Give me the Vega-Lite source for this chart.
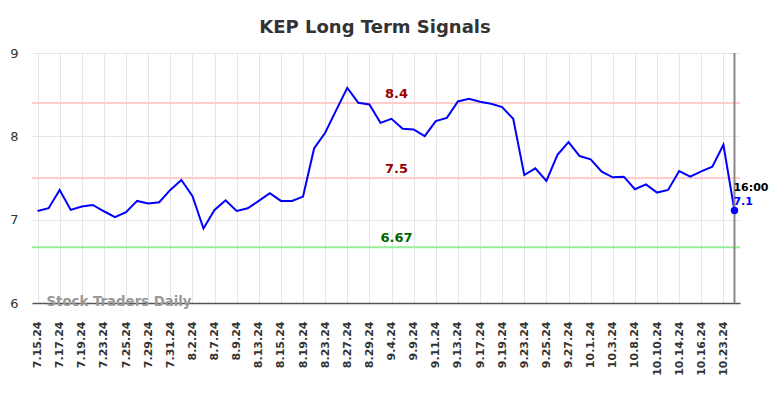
{
  "$schema": "https://vega.github.io/schema/vega-lite/v6.json",
  "width": 708,
  "height": 250,
  "autosize": "none",
  "padding": {"left": 32, "top": 53, "right": 44, "bottom": 95},
  "config": {"font": "DejaVu Sans", "view": {"stroke": null}},
  "title": {"text": "KEP Long Term Signals", "fontSize": 18, "fontWeight": "bold", "color": "#333333", "anchor": "middle", "dx": -11, "offset": 10},
  "resolve": {"scale": {"color": "independent"}},
  "data": {"values": [
    {"date": "7.15.24", "value": 7.105},
    {"date": "7.16.24", "value": 7.137},
    {"date": "7.17.24", "value": 7.357},
    {"date": "7.18.24", "value": 7.117},
    {"date": "7.19.24", "value": 7.157},
    {"date": "7.22.24", "value": 7.177},
    {"date": "7.23.24", "value": 7.101},
    {"date": "7.24.24", "value": 7.03},
    {"date": "7.25.24", "value": 7.09},
    {"date": "7.26.24", "value": 7.225},
    {"date": "7.29.24", "value": 7.193},
    {"date": "7.30.24", "value": 7.209},
    {"date": "7.31.24", "value": 7.357},
    {"date": "8.1.24", "value": 7.476},
    {"date": "8.2.24", "value": 7.285},
    {"date": "8.6.24", "value": 6.894},
    {"date": "8.7.24", "value": 7.117},
    {"date": "8.8.24", "value": 7.233},
    {"date": "8.9.24", "value": 7.105},
    {"date": "8.12.24", "value": 7.137},
    {"date": "8.13.24", "value": 7.225},
    {"date": "8.14.24", "value": 7.317},
    {"date": "8.15.24", "value": 7.225},
    {"date": "8.16.24", "value": 7.225},
    {"date": "8.19.24", "value": 7.277},
    {"date": "8.22.24", "value": 7.855},
    {"date": "8.23.24", "value": 8.043},
    {"date": "8.26.24", "value": 8.314},
    {"date": "8.27.24", "value": 8.581},
    {"date": "8.28.24", "value": 8.402},
    {"date": "8.29.24", "value": 8.382},
    {"date": "9.3.24", "value": 8.162},
    {"date": "9.4.24", "value": 8.21},
    {"date": "9.5.24", "value": 8.09},
    {"date": "9.9.24", "value": 8.083},
    {"date": "9.10.24", "value": 8.003},
    {"date": "9.11.24", "value": 8.182},
    {"date": "9.12.24", "value": 8.222},
    {"date": "9.13.24", "value": 8.418},
    {"date": "9.16.24", "value": 8.45},
    {"date": "9.17.24", "value": 8.414},
    {"date": "9.18.24", "value": 8.39},
    {"date": "9.19.24", "value": 8.35},
    {"date": "9.20.24", "value": 8.21},
    {"date": "9.23.24", "value": 7.536},
    {"date": "9.24.24", "value": 7.616},
    {"date": "9.25.24", "value": 7.464},
    {"date": "9.26.24", "value": 7.779},
    {"date": "9.27.24", "value": 7.931},
    {"date": "9.30.24", "value": 7.763},
    {"date": "10.1.24", "value": 7.724},
    {"date": "10.2.24", "value": 7.576},
    {"date": "10.3.24", "value": 7.508},
    {"date": "10.7.24", "value": 7.516},
    {"date": "10.8.24", "value": 7.365},
    {"date": "10.9.24", "value": 7.424},
    {"date": "10.10.24", "value": 7.325},
    {"date": "10.11.24", "value": 7.357},
    {"date": "10.14.24", "value": 7.584},
    {"date": "10.15.24", "value": 7.516},
    {"date": "10.16.24", "value": 7.58},
    {"date": "10.17.24", "value": 7.636},
    {"date": "10.23.24", "value": 7.899},
    {"date": "10.24.24", "value": 7.11}
  ]},
  "encoding": {
    "x": {
      "field": "date", "type": "ordinal", "sort": null,
      "scale": {"type": "point", "padding": 0.5},
      "axis": {
        "title": null,
        "values": ["7.15.24","7.17.24","7.19.24","7.23.24","7.25.24","7.29.24","7.31.24","8.2.24","8.7.24","8.9.24","8.13.24","8.15.24","8.19.24","8.23.24","8.27.24","8.29.24","9.4.24","9.9.24","9.11.24","9.13.24","9.17.24","9.19.24","9.23.24","9.25.24","9.27.24","10.1.24","10.3.24","10.8.24","10.10.24","10.14.24","10.16.24","10.23.24"],
        "labelAngle": -90, "labelAlign": "right", "labelBaseline": "middle",
        "labelFontSize": 11, "labelFontWeight": "bold", "labelColor": "#333333",
        "labelPadding": 18, "ticks": false,
        "domainColor": "#555555", "domainWidth": 1.5,
        "grid": true, "gridColor": "#e6e6e6", "gridWidth": 1
      }
    },
    "y": {
      "field": "value", "type": "quantitative",
      "scale": {"domain": [6, 9], "nice": false, "zero": false},
      "axis": {
        "title": null, "values": [6, 7, 8, 9], "ticks": false, "domain": false,
        "labelFontSize": 13, "labelColor": "#333333", "labelPadding": 14,
        "grid": true, "gridColor": "#e6e6e6", "gridWidth": 1
      }
    }
  },
  "layer": [
    {
      "data": {"values": [
        {"level": 8.4, "kind": "res"},
        {"level": 7.5, "kind": "res"},
        {"level": 6.67, "kind": "sup"}
      ]},
      "mark": {"type": "rule", "strokeWidth": 2},
      "encoding": {
        "x": null,
        "y": {"field": "level", "type": "quantitative"},
        "color": {"field": "kind", "type": "nominal", "scale": {"domain": ["res", "sup"], "range": ["#ffcccc", "#99ee99"]}, "legend": null}
      }
    },
    {
      "mark": {"type": "line", "color": "#0000ff", "strokeWidth": 2}
    },
    {
      "data": {"values": [{"date": "10.24.24"}]},
      "mark": {"type": "rule", "color": "#888888", "strokeWidth": 2},
      "encoding": {"y": null}
    },
    {
      "transform": [{"filter": "datum.date === '10.24.24'"}],
      "mark": {"type": "point", "filled": true, "color": "#0000ff", "size": 55, "opacity": 1}
    },
    {
      "data": {"values": [
        {"level": 8.4, "label": "8.4", "kind": "res"},
        {"level": 7.5, "label": "7.5", "kind": "res"},
        {"level": 6.67, "label": "6.67", "kind": "sup"}
      ]},
      "mark": {"type": "text", "fontSize": 13, "fontWeight": "bold", "dx": 5, "dy": -2, "baseline": "bottom", "align": "center"},
      "encoding": {
        "x": {"datum": "9.4.24"},
        "y": {"field": "level", "type": "quantitative"},
        "text": {"field": "label"},
        "color": {"field": "kind", "type": "nominal", "scale": {"domain": ["res", "sup"], "range": ["#990000", "#006600"]}, "legend": null}
      }
    },
    {
      "data": {"values": [{"date": "10.24.24", "value": 7.11, "label": "16:00"}]},
      "mark": {"type": "text", "fontSize": 11, "fontWeight": "bold", "align": "left", "baseline": "middle", "color": "#000000", "dx": -1, "dy": -23},
      "encoding": {"text": {"field": "label"}}
    },
    {
      "data": {"values": [{"date": "10.24.24", "value": 7.11, "label": "7.1"}]},
      "mark": {"type": "text", "fontSize": 11, "fontWeight": "bold", "align": "left", "baseline": "middle", "color": "#0000ff", "dx": -1, "dy": -9},
      "encoding": {"text": {"field": "label"}}
    },
    {
      "data": {"values": [{"date": "7.15.24", "value": 6, "label": "Stock Traders Daily"}]},
      "mark": {"type": "text", "fontSize": 13.3, "fontWeight": "bold", "align": "left", "baseline": "middle", "color": "#999999", "dx": 9, "dy": -1},
      "encoding": {"text": {"field": "label"}}
    }
  ]
}
